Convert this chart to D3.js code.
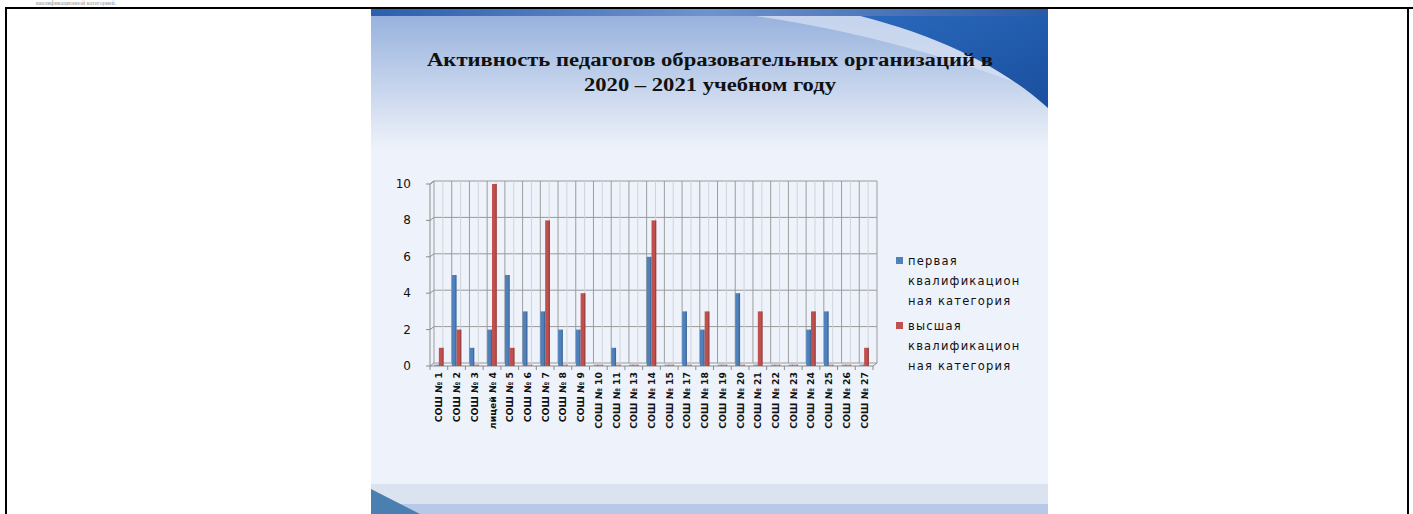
<!DOCTYPE html>
<html>
<head>
<meta charset="utf-8">
<script src="https://cdn.jsdelivr.net/npm/d3@7"></script>
<style>
  html, body { margin: 0; padding: 0; background: #fff; }
  svg { display: block; }
</style>
</head>
<body>
<div id="viz"></div>
<script>
var width = 1413;
var height = 514;

// data
var schools = ["СОШ № 1", "СОШ № 2", "СОШ № 3", "лицей № 4", "СОШ № 5", "СОШ № 6", "СОШ № 7",
  "СОШ № 8", "СОШ № 9", "СОШ № 10", "СОШ № 11", "СОШ № 13", "СОШ № 14", "СОШ № 15",
  "СОШ № 17", "СОШ № 18", "СОШ № 19", "СОШ № 20", "СОШ № 21", "СОШ № 22", "СОШ № 23",
  "СОШ № 24", "СОШ № 25", "СОШ № 26", "СОШ № 27"];
var first = [0, 5, 1, 2, 5, 3, 3, 2, 2, 0, 1, 0, 6, 0, 3, 2, 0, 4, 0, 0, 0, 2, 3, 0, 0];
var highest = [1, 2, 0, 10, 1, 0, 8, 0, 4, 0, 0, 0, 8, 0, 0, 3, 0, 0, 3, 0, 0, 3, 0, 0, 1];
var yTicks = [0, 2, 4, 6, 8, 10];
var seriesNames = [["первая", "квалификацион", "ная категория"], ["высшая", "квалификацион", "ная категория"]];
var seriesColors = ["#4f81bd", "#c0504d"];
var titleLines = ["Активность педагогов образовательных организаций в", "2020 – 2021 учебном году"];

var svg = d3.select("#viz").append("svg")
  .attr("width", width)
  .attr("height", height);

var defs = svg.append("defs");
var g1 = defs.append("linearGradient").attr("id", "topfade").attr("x1", 0).attr("y1", 0).attr("x2", 0).attr("y2", 1);
g1.append("stop").attr("offset", "0").attr("stop-color", "#93afdc");
g1.append("stop").attr("offset", "0.45").attr("stop-color", "#bccde9");
g1.append("stop").attr("offset", "1").attr("stop-color", "#eef2fa");
var g2 = defs.append("linearGradient").attr("id", "swoosh").attr("x1", 0).attr("y1", 0).attr("x2", 1).attr("y2", 1);
g2.append("stop").attr("offset", "0").attr("stop-color", "#2c6cc0");
g2.append("stop").attr("offset", "1").attr("stop-color", "#1a4f9e");
var g3 = defs.append("linearGradient").attr("id", "strip").attr("x1", 0).attr("y1", 0).attr("x2", 1).attr("y2", 0);
g3.append("stop").attr("offset", "0").attr("stop-color", "#2d5fae");
g3.append("stop").attr("offset", "0.5").attr("stop-color", "#6f93cc");
g3.append("stop").attr("offset", "1").attr("stop-color", "#2a5aa8");

// the tail of a text line above the frame
svg.append("text")
  .attr("x", 36).attr("y", 5)
  .attr("font-family", "Liberation Serif")
  .attr("font-size", 6)
  .attr("fill", "#999")
  .text("квалификационной категорией.");

// page frame
svg.append("path")
  .attr("d", "M6,514 L6,8 L1408,8 L1408,514 M1408,8 L1413,8")
  .attr("fill", "none")
  .attr("stroke", "#000")
  .attr("stroke-width", 2);

// slide background
var slide = svg.append("g");
slide.append("rect").attr("x", 371).attr("y", 9).attr("width", 677).attr("height", 505).attr("fill", "#eef2fa");
slide.append("rect").attr("x", 371).attr("y", 9).attr("width", 677).attr("height", 140).attr("fill", "url(#topfade)");
slide.append("path")
  .attr("d", "M700,9 C850,25 960,60 1048,95 L1048,9 Z")
  .attr("fill", "#d8e3f3").attr("opacity", 0.7);
slide.append("path")
  .attr("d", "M830,9 C930,30 1000,65 1048,108 L1048,9 Z")
  .attr("fill", "url(#swoosh)");
slide.append("rect").attr("x", 371).attr("y", 9).attr("width", 677).attr("height", 7).attr("fill", "url(#strip)");
slide.append("rect").attr("x", 371).attr("y", 484).attr("width", 677).attr("height", 30).attr("fill", "#dbe3f1");
slide.append("rect").attr("x", 371).attr("y", 504).attr("width", 677).attr("height", 10).attr("fill", "#b7c9e6");
slide.append("path")
  .attr("d", "M371,489 L420,514 L371,514 Z")
  .attr("fill", "#4a7fb0");

// title
svg.selectAll(".title").data(titleLines).enter().append("text")
  .attr("class", "title")
  .attr("x", 710)
  .attr("y", function(d, i) { return 66 + i * 25; })
  .attr("text-anchor", "middle")
  .attr("font-family", "Liberation Serif")
  .attr("font-weight", "bold")
  .attr("font-size", 18)
  .attr("fill", "#111")
  .attr("textLength", function(d, i) { return i === 0 ? 566 : 252; })
  .attr("lengthAdjust", "spacingAndGlyphs")
  .text(function(d) { return d; });

// plot
var left = 430, right = 873, dx = 4, dy = -3;
var x = d3.scaleBand().domain(schools).range([left, right]);
var y = d3.scaleLinear().domain([0, 10]).range([366, 184]);

var plot = svg.append("g");
var bw = x.bandwidth();

// back wall horizontal grid
plot.selectAll(".hgrid").data(yTicks).enter().append("line")
  .attr("x1", left + dx).attr("x2", right + dx)
  .attr("y1", function(d) { return y(d) + dy; })
  .attr("y2", function(d) { return y(d) + dy; })
  .attr("stroke", "#9a9a9a").attr("stroke-width", 1);

// vertical grid, every half category
var halves = d3.range(schools.length * 2 + 1);
plot.selectAll(".vgrid").data(halves).enter().append("line")
  .attr("x1", function(d) { return left + dx + d * bw / 2; })
  .attr("x2", function(d) { return left + dx + d * bw / 2; })
  .attr("y1", y(10) + dy).attr("y2", y(0) + dy)
  .attr("stroke", function(d) { return d % 2 === 0 ? "#9d9d9d" : "#cfd3da"; })
  .attr("stroke-width", 1);

// left side wall
plot.append("path")
  .attr("d", "M" + left + "," + y(0) + " L" + left + "," + y(10) + " L" + (left + dx) + "," + (y(10) + dy))
  .attr("fill", "none").attr("stroke", "#8c8c8c");
plot.selectAll(".ytk").data(yTicks).enter().append("path")
  .attr("d", function(d) {
    return "M" + (left - 4) + "," + y(d) + " L" + left + "," + y(d) + " L" + (left + dx) + "," + (y(d) + dy);
  })
  .attr("fill", "none").attr("stroke", "#8c8c8c");

// floor
plot.append("path")
  .attr("d", "M" + left + "," + y(0) + " L" + right + "," + y(0) + " L" + (right + dx) + "," + (y(0) + dy))
  .attr("fill", "none").attr("stroke", "#8c8c8c");
plot.selectAll(".xtk").data(d3.range(schools.length + 1)).enter().append("line")
  .attr("x1", function(d) { return left + d * bw; })
  .attr("x2", function(d) { return left + d * bw; })
  .attr("y1", y(0)).attr("y2", y(0) + 4)
  .attr("stroke", "#8c8c8c");

// bars
var barW = 4.8;
[first, highest].forEach(function(series, s) {
  var gs = plot.append("g");
  gs.selectAll("rect").data(series).enter().append("rect")
    .attr("x", function(d, i) { return x(schools[i]) + bw / 2 - barW + s * barW; })
    .attr("y", function(d) { return Math.min(y(d), y(0) - 1.5); })
    .attr("width", barW)
    .attr("height", function(d) { return Math.max(y(0) - y(d), 1.5); })
    .attr("fill", seriesColors[s])
    .attr("opacity", function(d) { return d === 0 ? 0.55 : 1; });
  gs.selectAll(".side").data(series).enter().append("rect")
    .attr("x", function(d, i) { return x(schools[i]) + bw / 2 - barW + s * barW + barW - 1.3; })
    .attr("y", function(d) { return Math.min(y(d), y(0) - 1.5); })
    .attr("width", 1.3)
    .attr("height", function(d) { return Math.max(y(0) - y(d), 1.5); })
    .attr("fill", "#000").attr("opacity", 0.18);
});

// y labels
svg.selectAll(".ylab").data(yTicks).enter().append("text")
  .attr("x", 411)
  .attr("y", function(d) { return y(d) + 4; })
  .attr("text-anchor", "end")
  .attr("font-family", "DejaVu Sans")
  .attr("font-size", 12)
  .attr("fill", "#111")
  .text(function(d) { return d; });

// x labels
svg.selectAll(".xlab").data(schools).enter().append("text")
  .attr("transform", function(d) {
    return "translate(" + (x(d) + bw / 2 + 3.5) + ",372) rotate(-90)";
  })
  .attr("text-anchor", "end")
  .attr("font-family", "DejaVu Sans")
  .attr("font-weight", "bold")
  .attr("font-size", 9.3)
  .attr("fill", "#111")
  .text(function(d) { return d; });

// legend
var leg = svg.selectAll(".leg").data(seriesNames).enter().append("g")
  .attr("transform", function(d, i) { return "translate(896," + (257 + i * 65) + ")"; });
leg.append("rect").attr("width", 7).attr("height", 7)
  .attr("fill", function(d, i) { return seriesColors[i]; });
leg.selectAll("text").data(function(d) { return d; }).enter().append("text")
  .attr("x", 12)
  .attr("y", function(d, j) { return 8 + j * 20; })
  .attr("font-family", "DejaVu Sans")
  .attr("font-size", 11.5)
  .attr("letter-spacing", 1.2)
  .attr("fill", "#111")
  .text(function(d) { return d; });
</script>
</body>
</html>
